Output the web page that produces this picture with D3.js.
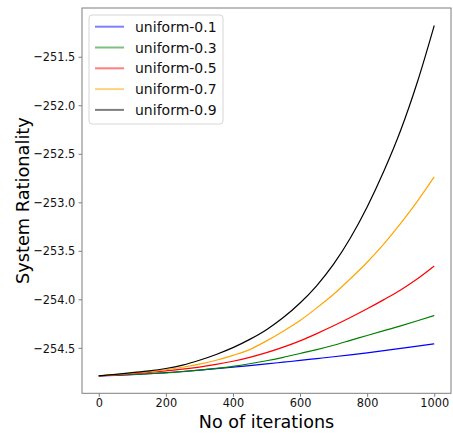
<!DOCTYPE html>
<html>
<head>
<meta charset="utf-8">
<script src="https://cdn.jsdelivr.net/npm/d3@7"></script>
<style>
  html, body { margin: 0; padding: 0; background: #fff; }
  svg { display: block; font-family: "DejaVu Sans", sans-serif; }
</style>
</head>
<body>
<svg id="chart" width="453" height="435"></svg>
<script>
// Iteration counts sampled along the x axis
const iterations = [0, 50, 100, 150, 200, 250, 300, 350, 400, 450, 500,
                    550, 600, 650, 700, 750, 800, 850, 900, 950, 1000];

// System rationality for each uniform setting
const uniform01 = [-254.788, -254.783, -254.776, -254.767, -254.756, -254.744, -254.730, -254.715, -254.699, -254.683, -254.666,
                   -254.648, -254.630, -254.611, -254.592, -254.572, -254.551, -254.529, -254.506, -254.483, -254.459];
const uniform03 = [-254.788, -254.782, -254.775, -254.767, -254.757, -254.745, -254.730, -254.712, -254.691, -254.664, -254.633,
                   -254.598, -254.558, -254.518, -254.473, -254.423, -254.373, -254.323, -254.273, -254.221, -254.167];
const uniform05 = [-254.788, -254.778, -254.767, -254.754, -254.738, -254.720, -254.698, -254.671, -254.638, -254.598, -254.550,
                   -254.493, -254.428, -254.353, -254.273, -254.188, -254.098, -254.003, -253.903, -253.788, -253.656];
const uniform07 = [-254.788, -254.776, -254.762, -254.746, -254.726, -254.700, -254.668, -254.628, -254.578, -254.518, -254.428,
                   -254.328, -254.218, -254.088, -253.948, -253.788, -253.618, -253.428, -253.218, -252.988, -252.738];
const uniform09 = [-254.788, -254.773, -254.756, -254.738, -254.713, -254.678, -254.628, -254.568, -254.498, -254.413, -254.313,
                   -254.188, -254.038, -253.858, -253.638, -253.368, -253.048, -252.678, -252.258, -251.758, -251.178];

const seriesNames = ["uniform-0.1", "uniform-0.3", "uniform-0.5", "uniform-0.7", "uniform-0.9"];
const seriesValues = [uniform01, uniform03, uniform05, uniform07, uniform09];
const seriesColors = ["blue", "green", "red", "orange", "black"];

const xTicks = [0, 200, 400, 600, 800, 1000];
const yTicks = [-254.5, -254.0, -253.5, -253.0, -252.5, -252.0, -251.5];

const svg = d3.select("#chart");
const plot = { left: 82, right: 451, top: 8, bottom: 393.3 };

// Axis limits padded by 5% of the data range on each side
const xMin = d3.min(iterations), xMax = d3.max(iterations);
const xPad = (xMax - xMin) * 0.05;
const allY = seriesValues.flat();
const yMin = d3.min(allY), yMax = d3.max(allY);
const yPad = (yMax - yMin) * 0.05;

const x = d3.scaleLinear().domain([xMin - xPad, xMax + xPad]).range([plot.left, plot.right]);
const y = d3.scaleLinear().domain([yMin - yPad, yMax + yPad]).range([plot.bottom, plot.top]);

const fmtY = v => d3.format(".1f")(v).replace("-", "\u2212");

// Series lines
const line = d3.line()
  .x((d, i) => x(iterations[i]))
  .y(d => y(d))
  .curve(d3.curveMonotoneX);
seriesValues.forEach((vals, k) => {
  svg.append("path")
    .datum(vals)
    .attr("fill", "none")
    .attr("stroke", seriesColors[k])
    .attr("stroke-width", 1.2)
    .attr("d", line);
});

// Frame
const spine = "#7f7f7f";
svg.append("rect")
  .attr("x", plot.left).attr("y", plot.top)
  .attr("width", plot.right - plot.left).attr("height", plot.bottom - plot.top)
  .attr("fill", "none").attr("stroke", spine).attr("stroke-width", 1);

// Tick labels use a slightly narrow glyph shape
const tickSize = 13, tickSqueeze = 0.87;

// X axis
const xAxis = d3.axisBottom(x).tickValues(xTicks).tickSize(3.5).tickPadding(0.7).tickFormat(d3.format("d"));
const gx = svg.append("g").attr("transform", `translate(0,${plot.bottom})`).call(xAxis);
gx.select(".domain").remove();
gx.selectAll(".tick line").attr("stroke", spine);
gx.selectAll(".tick text")
  .attr("font-size", tickSize).attr("fill", "#111")
  .attr("font-family", "DejaVu Sans, sans-serif")
  .attr("transform", `scale(${tickSqueeze},1)`);

// Y axis
const yAxis = d3.axisLeft(y).tickValues(yTicks).tickSize(3.5).tickPadding(3).tickFormat(fmtY);
const gy = svg.append("g").attr("transform", `translate(${plot.left},0)`).call(yAxis);
gy.select(".domain").remove();
gy.selectAll(".tick line").attr("stroke", spine);
gy.selectAll(".tick text")
  .attr("font-size", tickSize).attr("fill", "#111")
  .attr("font-family", "DejaVu Sans, sans-serif")
  .attr("x", 0)
  .attr("transform", `translate(-6.8,0) scale(${tickSqueeze},1)`);

// Axis titles
svg.append("text")
  .attr("transform", `translate(${(plot.left + plot.right) / 2},427.5) scale(0.95,1)`)
  .attr("text-anchor", "middle").attr("font-size", 18.5).attr("fill", "#000")
  .text("No of iterations");
svg.append("text")
  .attr("transform", `translate(29,${(plot.top + plot.bottom) / 2}) rotate(-90) scale(0.96,1)`)
  .attr("text-anchor", "middle").attr("font-size", 18.5).attr("fill", "#000")
  .text("System Rationality");

// Legend
const legend = svg.append("g").attr("transform", "translate(89,15)");
legend.append("rect")
  .attr("x", 0).attr("y", 0).attr("width", 134).attr("height", 109)
  .attr("rx", 3).attr("fill", "#fff").attr("fill-opacity", 0.8)
  .attr("stroke", "#d6d6d6").attr("stroke-width", 1);
seriesNames.forEach((name, k) => {
  const cy = 11.7 + k * 20.8;
  legend.append("line")
    .attr("x1", 6).attr("x2", 35).attr("y1", cy).attr("y2", cy)
    .attr("stroke", seriesColors[k]).attr("stroke-width", 2).attr("stroke-opacity", 0.5);
  legend.append("text")
    .attr("x", 46).attr("y", cy).attr("dy", "0.36em")
    .attr("font-size", 14).attr("fill", "#111")
    .text(name);
});
</script>
</body>
</html>
